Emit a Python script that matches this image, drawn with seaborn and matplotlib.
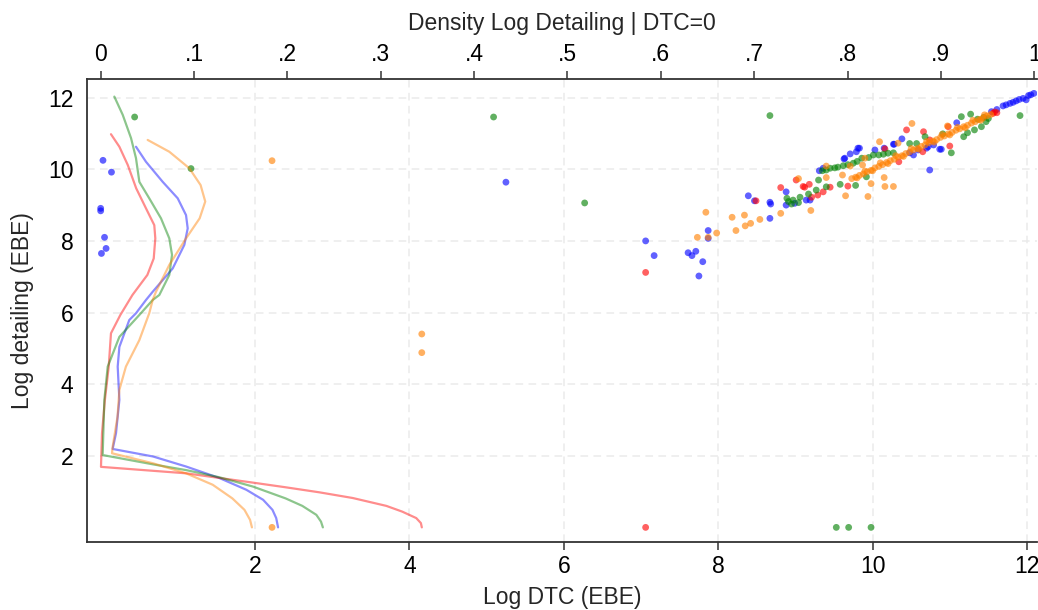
import numpy as np
import pandas as pd
import seaborn as sns
import matplotlib.pyplot as plt

groups = ["Group 1", "Group 2", "Group 3", "Group 4"]
colors = ["#0000ff", "#ff0000", "#008000", "#ff8000"]

# scatter points: Log DTC (x) vs Log detailing (y)
blue_x = [0.03, 0.14, 0.00, 0.00, 0.05, 0.07, 0.01, 5.25,
          7.06, 7.17, 7.61, 7.66, 7.71, 7.80, 7.75, 7.87, 7.87, 8.47, 8.67, 8.68, 8.67, 8.88, 8.88,
          8.99, 9.14, 9.19, 9.31, 9.36, 9.63, 9.71, 9.79, 9.83, 10.03, 10.15, 10.27, 10.74, 10.48,
          10.59, 10.70, 10.79, 10.89, 11.09, 10.53, 8.39, 9.64, 9.81, 10.38, 10.28, 10.72, 10.87,
          11.54, 11.61, 11.69, 11.73, 11.78, 11.82, 11.86, 11.90, 11.95, 11.99, 12.02, 12.05, 12.09]
blue_y = [10.25, 9.92, 8.91, 8.84, 8.10, 7.79, 7.65, 9.64,
          8.00, 7.59, 7.67, 7.59, 7.71, 7.42, 7.02, 8.29, 8.07, 9.12, 9.08, 9.03, 8.63, 9.37, 9.00,
          9.05, 9.14, 9.14, 9.96, 10.03, 10.29, 10.43, 10.49, 10.59, 10.54, 10.59, 10.70, 9.98, 10.46,
          10.54, 10.59, 10.68, 10.56, 11.30, 10.40, 9.26, 10.31, 10.59, 10.85, 10.70, 10.63, 10.56,
          11.61, 11.67, 11.77, 11.80, 11.84, 11.87, 11.91, 11.95, 11.98, 11.94, 12.06, 12.08, 12.12]

red_x = [7.06, 7.06, 8.49, 8.81, 9.01, 9.10, 9.12, 9.18, 9.21, 9.29, 9.36, 9.45, 9.68, 10.44, 10.66,
         10.74, 10.98, 11.00, 10.65, 10.16, 10.34, 11.56, 11.61, 11.58]
red_y = [0.00, 7.12, 9.12, 9.49, 9.70, 9.52, 9.50, 9.58, 9.22, 9.28, 9.37, 9.50, 9.53, 11.10, 11.05,
         10.82, 11.19, 10.65, 10.49, 10.57, 10.21, 11.56, 11.58, 11.60]

green_x = [0.44, 1.17, 5.09, 6.27, 8.67, 11.91, 9.53, 9.69, 9.98,
           8.89, 8.91, 8.95, 8.97, 9.04, 9.06, 9.17, 9.27, 9.40, 9.30, 9.35, 9.45, 9.51, 9.62, 9.75,
           9.86, 10.01, 10.14, 10.27, 9.58, 9.78, 10.48, 10.57, 10.68, 11.02, 11.18, 11.23, 11.15,
           11.27, 11.32, 11.41, 11.47, 10.91, 9.92,
           9.40, 9.55, 9.68, 9.80, 9.95, 10.08, 10.20, 11.36, 11.44, 11.50]
green_y = [11.46, 10.02, 11.46, 9.06, 11.50, 11.50, 0.00, 0.00, 0.00,
           9.19, 9.10, 9.03, 9.14, 9.07, 9.22, 9.31, 9.42, 9.51, 9.70, 9.96, 10.03, 10.04, 10.10, 10.17,
           10.31, 10.40, 10.42, 10.46, 9.58, 9.55, 10.72, 10.72, 10.91, 10.46, 10.91, 11.02, 11.47,
           11.54, 11.10, 11.19, 11.33, 10.99, 9.79,
           9.98, 10.06, 10.13, 10.22, 10.33, 10.40, 10.45, 11.40, 11.45, 11.42]

orange_x = [2.22, 2.22, 4.16, 4.16,
            7.84, 7.73, 7.87, 7.98, 8.18, 8.23, 8.34, 8.35, 8.42, 8.54, 8.81, 9.20, 9.04, 9.40, 9.65,
            9.94, 9.98, 10.15, 10.16, 10.27, 9.61, 9.87, 10.09, 10.33, 10.51, 10.97, 9.40, 9.71, 9.90,
            9.73, 9.78, 9.83, 9.88, 9.93, 9.98, 10.03, 10.08, 10.13, 10.18, 10.23, 10.28, 10.33, 10.38,
            10.43, 10.48, 10.53, 10.58, 10.63, 10.68, 10.73, 10.78, 10.83, 10.88, 10.93, 10.98, 11.03,
            11.08, 11.13, 11.18, 11.23, 11.28, 11.33, 11.38, 11.43, 11.48, 11.53,
            9.90, 10.10, 10.30, 10.50, 10.70, 10.90, 11.10, 11.30, 11.45,
            9.80, 10.00, 10.20, 10.40, 10.60, 10.80, 11.00, 11.20, 11.40]
orange_y = [10.24, 0.00, 5.40, 4.88,
            8.80, 8.10, 8.10, 8.22, 8.66, 8.29, 8.72, 8.42, 8.49, 8.60, 8.77, 8.85, 9.74, 9.77, 9.26,
            9.24, 9.60, 9.77, 9.52, 9.52, 9.84, 10.12, 10.77, 10.73, 11.28, 11.21, 10.09, 10.09, 10.31,
            9.74, 9.78, 9.83, 9.87, 9.93, 9.97, 10.04, 10.08, 10.13, 10.19, 10.24, 10.28, 10.34, 10.38,
            10.44, 10.48, 10.54, 10.58, 10.64, 10.68, 10.74, 10.79, 10.83, 10.89, 10.93, 10.99, 11.03,
            11.09, 11.13, 11.19, 11.23, 11.29, 11.33, 11.39, 11.43, 11.49, 11.53,
            9.95, 10.18, 10.38, 10.58, 10.78, 10.97, 11.17, 11.37, 11.52,
            9.76, 9.96, 10.16, 10.36, 10.56, 10.76, 10.96, 11.16, 11.37]

# kernel density of log detailing (DTC=0) from top to bottom
blue_dy = [10.63, 10.21, 9.65, 9.19, 8.72, 8.35, 7.89, 7.23, 6.58, 6.35, 5.98, 5.79, 5.04, 4.49,
           3.56, 2.63, 2.19, 1.98, 1.70, 1.38, 1.05, 0.77, 0.49, 0.26, 0.00]
blue_d = [0.0378, 0.0485, 0.0664, 0.0825, 0.0914, 0.0932, 0.0896, 0.0771, 0.0557, 0.0485, 0.0378,
          0.0306, 0.0200, 0.0182, 0.0200, 0.0164, 0.0128, 0.056, 0.0914, 0.127, 0.156, 0.174,
          0.184, 0.188, 0.190]

red_dy = [10.98, 10.63, 10.12, 9.47, 8.91, 8.44, 8.07, 7.51, 7.05, 6.49, 5.93, 5.42, 4.49, 3.56,
          2.63, 1.69, 1.51, 1.25, 1.12, 0.98, 0.82, 0.60, 0.44, 0.26, 0.12, 0.00]
red_d = [0.011, 0.020, 0.029, 0.038, 0.0485, 0.0574, 0.0585, 0.0568, 0.050, 0.034, 0.021, 0.011,
         0.0086, 0.0045, 0.0014, 0.0003, 0.0914, 0.163, 0.198, 0.234, 0.270, 0.306, 0.323, 0.338,
         0.343, 0.344]

green_dy = [12.03, 11.52, 10.87, 10.31, 9.65, 9.19, 8.63, 8.07, 7.61, 7.05, 6.49, 6.35, 5.95, 5.32,
            4.49, 3.56, 2.02, 1.76, 1.60, 1.40, 1.14, 0.81, 0.60, 0.35, 0.16, 0.00]
green_d = [0.0146, 0.0236, 0.0325, 0.0378, 0.0414, 0.052, 0.0646, 0.0735, 0.0764, 0.0735, 0.0628,
           0.0557, 0.042, 0.020, 0.0075, 0.0039, 0.0021, 0.056, 0.0914, 0.127, 0.163, 0.198,
           0.216, 0.231, 0.236, 0.238]

orange_dy = [10.82, 10.49, 10.03, 9.56, 9.10, 8.63, 8.07, 7.33, 6.58, 6.35, 5.98, 5.23, 4.49, 3.84,
             3.09, 2.25, 2.07, 1.79, 1.51, 1.19, 0.81, 0.49, 0.21, 0.00]
orange_d = [0.0503, 0.0735, 0.0949, 0.107, 0.112, 0.106, 0.0914, 0.0735, 0.0592, 0.0557, 0.052,
            0.0414, 0.027, 0.020, 0.018, 0.0128, 0.0121, 0.056, 0.0914, 0.120, 0.141, 0.154,
            0.160, 0.162]

pts = pd.concat([
    pd.DataFrame({"dtc": blue_x, "det": blue_y, "group": groups[0]}),
    pd.DataFrame({"dtc": red_x, "det": red_y, "group": groups[1]}),
    pd.DataFrame({"dtc": green_x, "det": green_y, "group": groups[2]}),
    pd.DataFrame({"dtc": orange_x, "det": orange_y, "group": groups[3]}),
], ignore_index=True)

dens = pd.concat([
    pd.DataFrame({"density": blue_d, "det": blue_dy, "group": groups[0]}),
    pd.DataFrame({"density": red_d, "det": red_dy, "group": groups[1]}),
    pd.DataFrame({"density": green_d, "det": green_dy, "group": groups[2]}),
    pd.DataFrame({"density": orange_d, "det": orange_dy, "group": groups[3]}),
], ignore_index=True)

sns.set_style("white")
plt.rcParams['font.family'] = ['Liberation Sans', 'DejaVu Sans']
FS = 16.5

W, H = 1038, 610
fig = plt.figure(figsize=(W / 100, H / 100), dpi=100)
left, right, top, bottom = 86.7, 1037, 78.7, 541.7
ax = fig.add_axes([left / W, (H - bottom) / H, (right - left) / W, (bottom - top) / H])

sns.scatterplot(data=pts, x="dtc", y="det", hue="group", hue_order=groups, palette=colors,
                s=24, alpha=0.62, linewidth=0, legend=False, ax=ax, zorder=3)

ax.set_xlim(-0.181, 12.13)
ax.set_ylim(-0.40, 12.53)
ax.set_xticks([2, 4, 6, 8, 10, 12])
ax.set_yticks([2, 4, 6, 8, 10, 12])
ax.grid(True, color="#ebebeb", linestyle=(0, (5, 3.5)), linewidth=1.1)
ax.set_axisbelow(True)
ax.set_xlabel("Log DTC (EBE)", fontsize=FS, labelpad=6)
ax.set_ylabel("Log detailing (EBE)", fontsize=FS, labelpad=10)

ax2 = ax.twiny()
sns.lineplot(data=dens, x="density", y="det", hue="group", hue_order=groups, palette=colors,
             sort=False, estimator=None, alpha=0.45, linewidth=1.6, legend=False, ax=ax2)
ax2.set_xlim(-0.015, 1.003)
ax2.set_ylim(-0.40, 12.53)
ax2.set_xticks(np.round(np.arange(0, 1.01, 0.1), 1))
ax2.set_xticklabels(["0", ".1", ".2", ".3", ".4", ".5", ".6", ".7", ".8", ".9", "1"])
ax2.set_xlabel("Density Log Detailing | DTC=0", fontsize=FS, labelpad=9)
ax2.set_ylabel("")

for a in (ax, ax2):
    a.tick_params(direction="out", length=5.5, width=1.1, color="#333333",
                  labelsize=FS, pad=4, labelcolor="black")
    for s in a.spines.values():
        s.set_visible(False)
for side in ("left", "bottom"):
    ax.spines[side].set_visible(True)
    ax.spines[side].set_color("#333333")
    ax.spines[side].set_linewidth(1.3)
ax2.spines["top"].set_visible(True)
ax2.spines["top"].set_color("#333333")
ax2.spines["top"].set_linewidth(1.3)

fig.savefig("out.png", dpi=100)
